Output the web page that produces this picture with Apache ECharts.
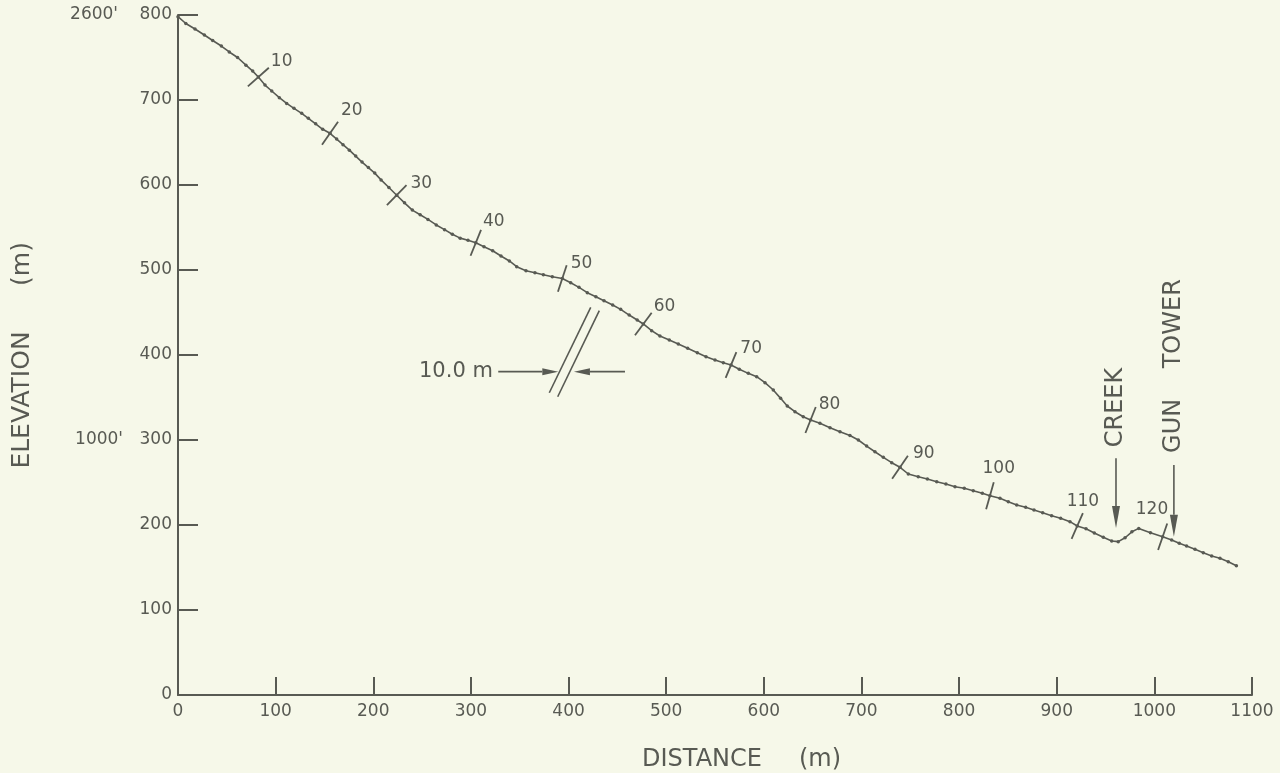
<!DOCTYPE html>
<html>
<head>
<meta charset="utf-8">
<script src="https://cdn.jsdelivr.net/npm/echarts@6/dist/echarts.min.js"></script>
<style>
  html, body { margin: 0; padding: 0; background: #f6f8e9; }
  #chart { width: 1280px; height: 773px; }
</style>
</head>
<body>
<div id="chart"></div>
<script>
// ---- data (distance m, elevation m) ----
const stationX = [
  0, 8.0, 17.4, 27, 35.5, 44.4, 52.5, 61, 69.6, 76.5,
  82.3, 89.1, 96, 103.8, 111.3, 118.8, 126.7, 133.5, 141, 148.2,
  155.7, 162.5, 169, 175.5, 182, 188.5, 195, 201.5, 208, 216,
  224, 232, 240, 248, 256, 264.5, 273, 281, 289, 297,
  305, 313.4, 322.3, 330.8, 339.4, 346.9, 356.4, 365.6, 374.2, 383.4,
  393.6, 402.2, 410.7, 419.2, 428, 436.3, 445.2, 453.4, 462.1, 470.3,
  476.6, 485.1, 493.6, 503.2, 512.4, 522, 531.9, 540.8, 550, 558.5,
  566.4, 574.9, 584.1, 592.7, 601.2, 609.7, 617.2, 624, 631.9, 640.4,
  647.9, 657.5, 667.8, 678, 688.2, 696.8, 705.3, 713.8, 722.4, 731,
  739.5, 748, 758.2, 767.5, 777.1, 786.5, 795.8, 805.3, 814.5, 823.8,
  831.6, 841.9, 850.4, 859, 868.2, 876.7, 885.6, 894.8, 904, 913.6,
  921, 930, 938.5, 947.7, 956.3, 963, 970, 977, 984, 996,
  1008.5, 1017.7, 1025.5, 1033, 1041.6, 1050.1, 1058.7, 1067.2, 1075.7, 1084
];
const stationElev = [
  798, 790, 783.5, 776.5, 770, 763.5, 756.5, 750, 741, 734,
  727, 717.6, 710.6, 702.7, 696, 690.2, 684.3, 678.4, 672, 665.5,
  660.8, 654, 647.5, 641, 634, 627, 620.5, 614, 606, 597,
  588, 579, 570.5, 565, 559.5, 553, 547.5, 542, 537.5, 535,
  532, 527.4, 522.7, 516.5, 510.6, 503.9, 499.2, 496.8, 494.5, 492.1,
  490, 485, 479.6, 473.3, 468.6, 463.9, 458.8, 453.7, 447, 441.2,
  436.5, 428.6, 422.4, 417.6, 412.9, 407.9, 402.7, 398, 394.1, 391,
  388.2, 383.2, 378.4, 374.5, 367.4, 358.8, 349, 340, 333.3, 327.4,
  323.5, 319.6, 314.5, 309.8, 305.3, 300, 292.9, 286.2, 279.6, 273.3,
  267.9, 260, 256.8, 254.1, 250.9, 248.2, 245.1, 243.2, 240.4, 237.3,
  234.5, 231.4, 227.4, 223.5, 220.8, 217.6, 214.5, 211, 207.9, 203.9,
  198.8, 195.6, 190.6, 185.5, 181.2, 180.4, 185, 192, 196, 191,
  186.2, 182.4, 178.5, 175.3, 171.4, 167.4, 163.5, 160.8, 156.8, 152.1
];
const markedStations = [10, 20, 30, 40, 50, 60, 70, 80, 90, 100, 110, 120];
const feetLabelValues = [800, 300];
const feetLabelTexts = ["2600'", "1000'"];
const creekAt = [960.7, 196.5];
const gunTowerAt = [1020, 186.2];

// ---- layout / style (not data) ----
const INK = '#585a53';
const FONT = 'DejaVu Sans';
const feetLabelGap = [60, 55];
const labelPlacement = { // [dx, dy, align] relative to the upper end of the station cross
  10: [2, -6, 'left'], 20: [3, -11, 'left'], 30: [4, -2, 'left'], 40: [2, -8, 'left'],
  50: [4, -2, 'left'], 60: [2, -6, 'left'], 70: [4, -4, 'left'], 80: [3, -2, 'left'],
  90: [5, -2, 'left'], 100: [5, -14, 'center'], 110: [0, -12, 'center'], 120: [1, -14, 'right']
};

const chart = echarts.init(document.getElementById('chart'), null, { renderer: 'canvas' });

const profile = stationX.map((x, i) => [x, stationElev[i]]);

chart.setOption({
  backgroundColor: '#f6f8e9',
  animation: false,
  grid: { left: 178, right: 28, top: 15, bottom: 78, containLabel: false },
  xAxis: {
    type: 'value', min: 0, max: 1100, interval: 100,
    axisLine: { lineStyle: { color: INK, width: 2 } },
    axisTick: { inside: true, length: 18, lineStyle: { color: INK, width: 2 } },
    axisLabel: { color: INK, fontFamily: FONT, fontSize: 17, margin: 8, formatter: v => String(v) },
    splitLine: { show: false }
  },
  yAxis: {
    type: 'value', min: 0, max: 800, interval: 100,
    axisLine: { show: true, lineStyle: { color: INK, width: 2 } },
    axisTick: { show: true, inside: true, length: 20, lineStyle: { color: INK, width: 2 } },
    axisLabel: { color: INK, fontFamily: FONT, fontSize: 17, margin: 6, formatter: v => String(v) },
    splitLine: { show: false }
  },
  series: [
    {
      type: 'line', data: profile, smooth: false,
      symbol: 'circle', symbolSize: 3.5, showSymbol: true,
      lineStyle: { color: INK, width: 1.6 },
      itemStyle: { color: INK },
      z: 2
    },
    {
      type: 'custom',
      data: markedStations.map(s => [s]),
      renderItem: function (params, api) {
        const s = api.value(0);
        const p = api.coord([stationX[s], stationElev[s]]);
        const a = api.coord([stationX[s - 1], stationElev[s - 1]]);
        const b = api.coord([stationX[s + 1], stationElev[s + 1]]);
        let dx = b[0] - a[0], dy = b[1] - a[1];
        const len = Math.hypot(dx, dy); dx /= len; dy /= len;
        const nx = dy, ny = -dx, L = 14;
        const top = [p[0] + nx * L, p[1] + ny * L];
        const bot = [p[0] - nx * L, p[1] - ny * L];
        const lp = labelPlacement[s];
        return {
          type: 'group',
          children: [
            { type: 'line', shape: { x1: bot[0], y1: bot[1], x2: top[0], y2: top[1] },
              style: { stroke: INK, lineWidth: 1.8 } },
            { type: 'text', x: top[0] + lp[0], y: top[1] + lp[1],
              style: { text: String(s), fill: INK, font: '17px "' + FONT + '"', align: lp[2], verticalAlign: 'middle' } }
          ]
        };
      },
      z: 3
    }
  ]
});

// ---- annotations placed through the axes' scales ----
function P(x, y) { return chart.convertToPixel({ gridIndex: 0 }, [x, y]); }
function arrow(from, to, headLen, headHalf) {
  const a = P(from[0], from[1]), b = P(to[0], to[1]);
  let dx = b[0] - a[0], dy = b[1] - a[1];
  const len = Math.hypot(dx, dy); dx /= len; dy /= len;
  const base = [b[0] - dx * headLen, b[1] - dy * headLen];
  return [
    { type: 'line', shape: { x1: a[0], y1: a[1], x2: base[0], y2: base[1] }, style: { stroke: INK, lineWidth: 1.6 } },
    { type: 'polygon', shape: { points: [b, [base[0] - dy * headHalf, base[1] + dx * headHalf], [base[0] + dy * headHalf, base[1] - dx * headHalf]] },
      style: { fill: INK } }
  ];
}
function seg(p1, p2, w) {
  const a = P(p1[0], p1[1]), b = P(p2[0], p2[1]);
  return { type: 'line', shape: { x1: a[0], y1: a[1], x2: b[0], y2: b[1] }, style: { stroke: INK, lineWidth: w || 1.6 } };
}

const g = [];
// feet labels on the elevation axis
feetLabelValues.forEach((v, i) => {
  const p = P(0, v);
  g.push({ type: 'text', x: p[0] - feetLabelGap[i], y: p[1], style: { text: feetLabelTexts[i], fill: INK, font: '17px "' + FONT + '"', align: 'right', verticalAlign: 'middle' } });
});
// axis titles
g.push({ type: 'text', x: 22, y: 400, rotation: Math.PI / 2,
  style: { text: 'ELEVATION', fill: INK, font: '25px "' + FONT + '"', align: 'center', verticalAlign: 'middle' } });
g.push({ type: 'text', x: 22, y: 264, rotation: Math.PI / 2,
  style: { text: '(m)', fill: INK, font: '25px "' + FONT + '"', align: 'center', verticalAlign: 'middle' } });
g.push({ type: 'text', x: 702, y: 760,
  style: { text: 'DISTANCE', fill: INK, font: '24px "' + FONT + '"', align: 'center', verticalAlign: 'middle' } });
g.push({ type: 'text', x: 820, y: 760,
  style: { text: '(m)', fill: INK, font: '24px "' + FONT + '"', align: 'center', verticalAlign: 'middle' } });

// 10.0 m scale
g.push(seg([422.7, 456.1], [380.3, 355.6]));
g.push(seg([431.5, 452.1], [388.9, 350.9]));
arrow([328, 380.4], [389.5, 380.4], 16, 3.5).forEach(e => g.push(e));
arrow([457.8, 380.4], [405.5, 380.4], 16, 3.5).forEach(e => g.push(e));
(function () {
  const p = P(322.5, 380.4);
  g.push({ type: 'text', x: p[0], y: p[1], style: { text: '10.0 m', fill: INK, font: '21px "' + FONT + '"', align: 'right', verticalAlign: 'middle' } });
})();

// CREEK
arrow([creekAt[0], 278.5], creekAt, 22, 4).forEach(e => g.push(e));
(function () {
  const p = P(creekAt[0], 338.2);
  g.push({ type: 'text', x: p[0], y: p[1], rotation: Math.PI / 2,
    style: { text: 'CREEK', fill: INK, font: '24px "' + FONT + '"', align: 'center', verticalAlign: 'middle' } });
})();
// GUN TOWER
arrow([gunTowerAt[0], 270.6], gunTowerAt, 22, 4).forEach(e => g.push(e));
(function () {
  const p = P(gunTowerAt[0], 387);
  g.push({ type: 'text', x: p[0], y: p[1], rotation: Math.PI / 2,
    style: { text: 'GUN    TOWER', fill: INK, font: '24px "' + FONT + '"', align: 'center', verticalAlign: 'middle' } });
})();

chart.setOption({ graphic: g });
</script>
</body>
</html>
